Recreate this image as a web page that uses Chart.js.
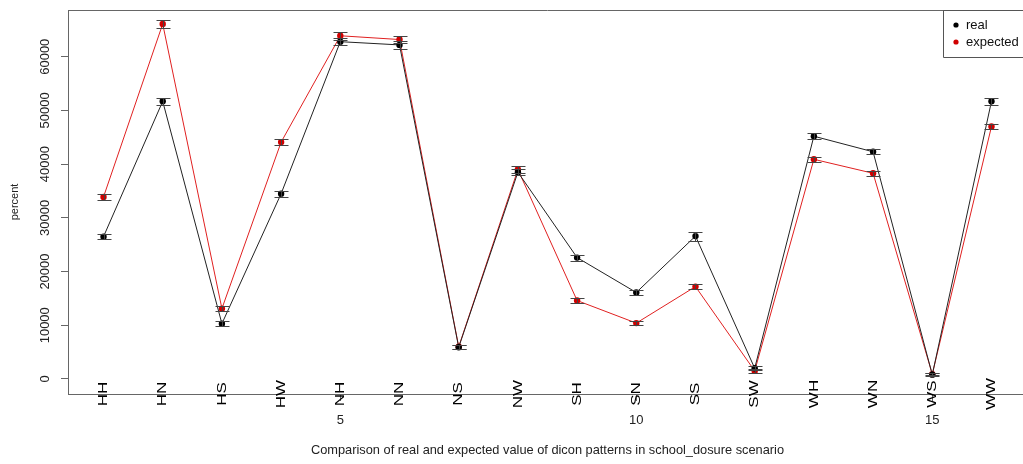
<!DOCTYPE html>
<html>
<head>
<meta charset="utf-8">
<script src="https://cdn.jsdelivr.net/npm/chart.js@4/dist/chart.umd.min.js"></script>
<style>
  html, body { margin: 0; padding: 0; background: #fff; overflow: hidden; }
  #wrap { width: 1040px; height: 464px; }
</style>
</head>
<body>
<div id="wrap"><canvas id="c" width="1040" height="464"></canvas></div>
<script>
// Dicon patterns observed in the school closure scenario
const categories = ['HH', 'HN', 'HS', 'HW', 'NH', 'NN', 'NS', 'NW', 'SH', 'SN', 'SS', 'SW', 'WH', 'WN', 'WS', 'WW'];
const seriesNames = ['real', 'expected'];
const realValues     = [26500, 51700, 10300, 34500, 62800, 62200, 5900, 38500, 22600, 16100, 26600, 2000, 45200, 42300, 800, 51700];
const expectedValues = [33900, 66100, 13100, 44100, 63900, 63200, 6000, 39000, 14600, 10400, 17200, 1500, 40900, 38300, 900, 47000];
// half-widths of the error bars
const realErrors     = [450, 600, 450, 550, 700, 700, 400, 600, 550, 450, 850, 400, 550, 500, 250, 600];
const expectedErrors = [550, 750, 500, 600, 700, 700, 400, 600, 450, 400, 500, 350, 450, 450, 250, 500];
const yTickValues = [0, 10000, 20000, 30000, 40000, 50000, 60000];
const xTickValues = [5, 10, 15];

const FONT = "'Liberation Sans', Arial, Helvetica, sans-serif";
Chart.defaults.font.family = FONT;
Chart.defaults.color = '#222';

const toPoints = vals => vals.map((v, i) => ({ x: i + 1, y: v }));

const errorSets = [realErrors, expectedErrors];

// vertical error bars with caps, positioned through the scales
const errorBars = {
  id: 'errorBars',
  afterDatasetsDraw(chart) {
    const { ctx, scales: { x, y } } = chart;
    ctx.save();
    ctx.strokeStyle = '#444';
    ctx.lineWidth = 1;
    chart.data.datasets.forEach((ds, di) => {
      const errs = errorSets[di];
      ds.data.forEach((p, i) => {
        const px = Math.round(x.getPixelForValue(p.x)) + 0.5;
        const top = Math.round(y.getPixelForValue(p.y + errs[i])) + 0.5;
        const bot = Math.round(y.getPixelForValue(p.y - errs[i])) + 0.5;
        ctx.beginPath();
        ctx.moveTo(px, top); ctx.lineTo(px, bot);
        ctx.moveTo(px - 7, top); ctx.lineTo(px + 7, top);
        ctx.moveTo(px - 7, bot); ctx.lineTo(px + 7, bot);
        ctx.stroke();
      });
    });
    ctx.restore();
  }
};

// frame line along the top of the plotting region
const frameTop = {
  id: 'frameTop',
  afterDraw(chart) {
    const { ctx, chartArea: a } = chart;
    ctx.save();
    ctx.strokeStyle = '#666';
    ctx.lineWidth = 1;
    ctx.beginPath();
    ctx.moveTo(a.left, Math.round(a.top) + 0.5);
    ctx.lineTo(a.right, Math.round(a.top) + 0.5);
    ctx.stroke();
    ctx.restore();
  }
};

// rotated pattern names along the horizontal axis
const categoryLabels = {
  id: 'categoryLabels',
  afterDraw(chart) {
    const { ctx, scales: { x, y } } = chart;
    const baseY = y.bottom;
    ctx.save();
    ctx.fillStyle = '#000';
    ctx.font = '17px ' + FONT;
    ctx.textAlign = 'center';
    ctx.textBaseline = 'middle';
    categories.forEach((c, i) => {
      ctx.save();
      ctx.translate(x.getPixelForValue(i + 1), baseY);
      ctx.rotate(-Math.PI / 2);
      ctx.scale(1, 0.8);
      ctx.fillText(c, 0, 0);
      ctx.restore();
    });
    ctx.restore();
  }
};

// boxed legend in the upper right corner
const boxLegend = {
  id: 'boxLegend',
  afterDraw(chart) {
    const { ctx, chartArea: a } = chart;
    const left = 943.5, top = Math.round(a.top) + 0.5, bottom = 57.5;
    ctx.save();
    ctx.strokeStyle = '#555';
    ctx.lineWidth = 1;
    ctx.beginPath();
    ctx.moveTo(chart.width + 5, top);
    ctx.lineTo(left, top);
    ctx.lineTo(left, bottom);
    ctx.lineTo(chart.width + 5, bottom);
    ctx.stroke();
    ctx.font = '13px ' + FONT;
    ctx.textBaseline = 'middle';
    ctx.textAlign = 'left';
    chart.data.datasets.forEach((ds, i) => {
      const cy = 25 + i * 17;
      ctx.fillStyle = ds.pointBackgroundColor;
      ctx.beginPath();
      ctx.arc(956, cy, 2.6, 0, Math.PI * 2);
      ctx.fill();
      ctx.fillStyle = '#111';
      ctx.fillText(ds.label, 966, cy);
    });
    ctx.restore();
  }
};

new Chart(document.getElementById('c'), {
  type: 'line',
  data: {
    datasets: [
      {
        label: seriesNames[0],
        data: toPoints(realValues),
        borderColor: '#222',
        borderWidth: 1,
        pointBackgroundColor: '#000',
        pointBorderColor: '#000',
        pointRadius: 3.2,
        pointBorderWidth: 0,
        tension: 0
      },
      {
        label: seriesNames[1],
        data: toPoints(expectedValues),
        borderColor: '#e02020',
        borderWidth: 1,
        pointBackgroundColor: '#d00000',
        pointBorderColor: '#d00000',
        pointRadius: 3.2,
        pointBorderWidth: 0,
        tension: 0
      }
    ]
  },
  options: {
    responsive: false,
    animation: false,
    devicePixelRatio: 1,
    layout: { padding: { top: 10, right: 13, left: 0, bottom: 0 } },
    plugins: {
      legend: { display: false },
      tooltip: { enabled: false }
    },
    scales: {
      x: {
        type: 'linear',
        min: 0.4,
        max: 16.6,
        afterBuildTicks: s => { s.ticks = xTickValues.map(v => ({ value: v })); },
        afterFit: s => { s.height = 70; },
        grid: { drawOnChartArea: false, drawTicks: true, tickLength: 7, color: '#666' },
        border: { display: true, color: '#666' },
        ticks: { font: { size: 13 }, color: '#222', padding: 12, maxRotation: 0, autoSkip: false, callback: v => String(v) },
        title: {
          display: true,
          text: 'Comparison of real and expected value of dicon patterns in school_dosure scenario',
          font: { size: 12.8 },
          color: '#222',
          padding: { top: 0, bottom: 6 }
        }
      },
      y: {
        type: 'linear',
        min: -2800,
        max: 68700,
        afterBuildTicks: s => { s.ticks = yTickValues.map(v => ({ value: v })); },
        afterFit: s => { s.width = 68; },
        grid: { drawOnChartArea: false, drawTicks: true, tickLength: 7, color: '#666' },
        border: { display: true, color: '#666' },
        ticks: { font: { size: 13 }, color: '#222', padding: -2, minRotation: 90, maxRotation: 90, crossAlign: 'center', autoSkip: false, callback: v => String(v) },
        title: {
          display: true,
          text: 'percent',
          font: { size: 11 },
          color: '#222',
          padding: { top: 8, bottom: 0 }
        }
      }
    }
  },
  plugins: [errorBars, frameTop, categoryLabels, boxLegend]
});
</script>
</body>
</html>
